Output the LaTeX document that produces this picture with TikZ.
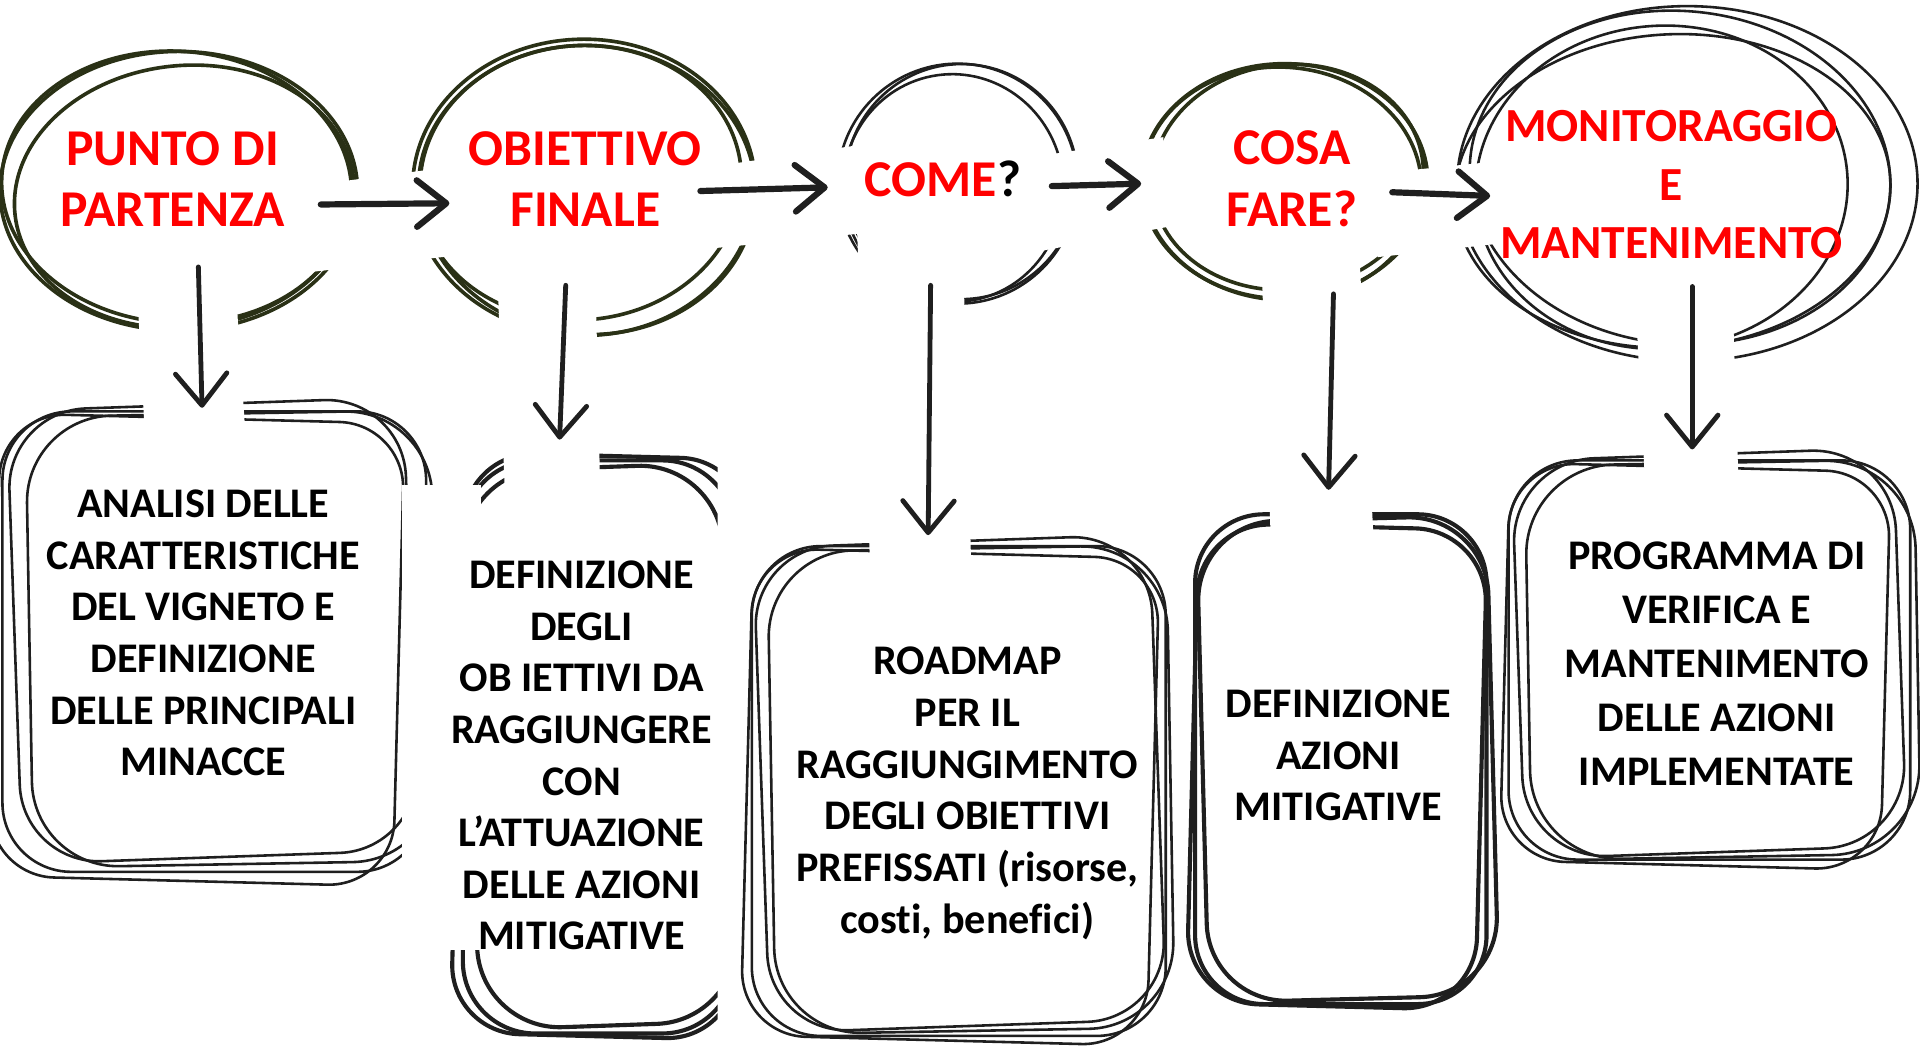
\documentclass[tikz,border=0pt]{standalone}
\usepackage{fontspec}
\setmainfont{Carlito}[Ligatures=CommonOff]
\usetikzlibrary{arrows.meta,positioning}
\definecolor{ringgreen}{HTML}{2A3116}
\definecolor{ink}{HTML}{1F1F1F}
\definecolor{headred}{HTML}{FF0000}

\begin{document}
\begin{tikzpicture}[
  x=0.025cm, y=-0.025cm,
  gring/.style={draw=ringgreen, line width=2.1pt},
  kring/.style={draw=ink, line width=1.5pt},
  kbox/.style ={draw=ink, line width=1.5pt},
  kboxb/.style={draw=ink, line width=2.4pt},
  patch/.style={fill=white, draw=none},
  head/.style ={text=headred, font=\fontsize{30}{35.5}\selectfont\bfseries, align=center, inner sep=0pt},
  body/.style ={text=black, font=\fontsize{24.5}{30}\selectfont\bfseries, align=center, inner sep=0pt},
  harr/.style ={-{Straight Barb[length=0.6cm,width=0.95cm,round]}, line width=3.6pt, draw=ink, line cap=round},
  varr/.style ={-{Straight Barb[length=0.65cm,width=1.05cm,round]}, line width=2.8pt, draw=ink, line cap=round},
]
\fill[white] (0,0) rectangle (1568,859);
\useasboundingbox (0,0) rectangle (1568,859);

%% --- top rings ---
% punto di partenza
\foreach \dx/\dy/\rx/\ry/\a in {0/0/146/114/0, 4/5/139/107/6, -2/-3/143/111/-4} {
  \draw[gring, rotate around={\a:(146,156)}] (146+\dx,156+\dy) ellipse [x radius=\rx, y radius=\ry];
}
% obiettivo finale
\foreach \dx/\dy/\rx/\ry/\a in {0/0/140/121/0, -3/-4/132/112/5, 3/2/137/118/-3} {
  \draw[gring, rotate around={\a:(477,153)}] (477+\dx,153+\dy) ellipse [x radius=\rx, y radius=\ry];
}
% come
\foreach \dx/\dy/\rx/\ry/\a in {0/0/98/98/0, -4/3/90/93/8, 3/-2/95/96/-6} {
  \draw[kring, rotate around={\a:(782,150)}] (782+\dx,150+\dy) ellipse [x radius=\rx, y radius=\ry];
}
% cosa fare
\foreach \dx/\dy/\rx/\ry/\a in {0/0/117/96/0, 3/-3/111/92/6, -2/2/114/95/-4} {
  \draw[gring, rotate around={\a:(1049,148)}] (1049+\dx,148+\dy) ellipse [x radius=\rx, y radius=\ry];
}
% monitoraggio
\foreach \cx/\cy/\rx/\ry/\a in {1378/150/188/145/0, 1357/153/152/132/4, 1372/145/172/136/-5, 1366/156/178/128/3} {
  \draw[kring, rotate around={\a:(\cx,\cy)}] (\cx,\cy) ellipse [x radius=\rx, y radius=\ry];
}

%% --- bottom boxes ---
\foreach \l/\t/\r/\b/\a/\rc in {2/336/348/712/0/40, 12/330/336/700/2/46, -4/342/326/720/-1.5/38, 24/338/355/706/1/50} {
  \draw[kbox, rounded corners=\rc pt, rotate around={\a:(175,520)}] (\l,\t) rectangle (\r,\b);
}
\begin{scope}
  \clip (300,300) rectangle (586,900);
  \foreach \l/\t/\r/\b/\a/\rc in {378/376/600/844/0/42, 384/382/596/838/2/48, 374/372/606/846/-1.5/40} {
    \draw[kboxb, rounded corners=\rc pt, rotate around={\a:(480,610)}] (\l,\t) rectangle (\r,\b);
  }
\end{scope}
\foreach \l/\t/\r/\b/\a/\rc in {614/446/952/846/0/40, 622/442/946/838/2/46, 610/452/942/850/-1.5/38, 630/448/956/842/1/50} {
  \draw[kbox, rounded corners=\rc pt, rotate around={\a:(785,645)}] (\l,\t) rectangle (\r,\b);
}
\foreach \l/\t/\r/\b/\a/\rc in {976/420/1214/820/0/40, 982/424/1219/816/1.5/46, 974/430/1210/822/-1.5/42} {
  \draw[kboxb, rounded corners=\rc pt, rotate around={\a:(1096,620)}] (\l,\t) rectangle (\r,\b);
}
\foreach \l/\t/\r/\b/\a/\rc in {1232/376/1560/702/0/40, 1240/371/1552/696/2/48, 1229/382/1540/707/-1.5/38, 1248/378/1566/700/1/52} {
  \draw[kbox, rounded corners=\rc pt, rotate around={\a:(1398,540)}] (\l,\t) rectangle (\r,\b);
}

%% --- white patches under the arrows ---
\fill[patch] (250,152) -- (400,132) -- (405,205) -- (255,222) -- cycle;
\fill[patch] (555,140) -- (705,118) -- (710,190) -- (560,205) -- cycle;
\fill[patch] (845,128) -- (950,112) -- (955,185) -- (850,205) -- cycle;
\fill[patch] (1122,142) -- (1240,130) -- (1242,197) -- (1125,210) -- cycle;
\fill[patch] (110,200) -- (190,198) -- (200,348) -- (118,350) -- cycle;
\fill[patch] (406,215) -- (486,212) -- (490,394) -- (412,396) -- cycle;
\fill[patch] (700,190) -- (786,188) -- (794,496) -- (712,498) -- cycle;
\fill[patch] (1030,206) -- (1110,204) -- (1122,446) -- (1038,448) -- cycle;
\fill[patch] (1334,216) -- (1414,214) -- (1420,402) -- (1344,404) -- cycle;
\fill[patch] (328,396) rectangle (393,776);

%% --- arrow ends ---
\coordinate (a1s) at (262,167);  \coordinate (a1e) at (367,166);
\coordinate (a2s) at (572,156);  \coordinate (a2e) at (676,153);
\coordinate (a3s) at (859,152);  \coordinate (a3e) at (932,150);
\coordinate (a4s) at (1137,157); \coordinate (a4e) at (1217,160);
\coordinate (v1s) at (162,218);  \coordinate (v1e) at (165,333);
\coordinate (v2s) at (462,233);  \coordinate (v2e) at (457,359);
\coordinate (v3s) at (760,233);  \coordinate (v3e) at (758,437);
\coordinate (v4s) at (1089,240); \coordinate (v4e) at (1085,400);
\coordinate (v5s) at (1382,234); \coordinate (v5e) at (1382,367);

\draw[harr] (a1s) -- (a1e);
\draw[harr] (a2s) -- (a2e);
\draw[harr] (a3s) -- (a3e);
\draw[harr] (a4s) -- (a4e);
\draw[varr] (v1s) -- (v1e);
\draw[varr] (v2s) -- (v2e);
\draw[varr] (v3s) -- (v3e);
\draw[varr] (v4s) -- (v4e);
\draw[varr] (v5s) -- (v5e);

%% --- texts ---
\node[head] (t1) at (141,146) {PUNTO DI\\PARTENZA};
\node[head] (t2) at (478,146) {OBIETTIVO\\FINALE};
\node[head] (t3) at (770,146) {COME\textcolor{black}{?}};
\node[head] (t4) at (1055,146) {COSA\\FARE?};
\node[head, font=\fontsize{27.6}{34}\selectfont\bfseries] (t5) at (1365,151) {MONITORAGGIO\\E\\MANTENIMENTO};

\node[body] (b1) at (166,517) {ANALISI DELLE\\CARATTERISTICHE\\DEL VIGNETO E\\DEFINIZIONE\\DELLE PRINCIPALI\\MINACCE};
\node[body] (b2) at (475,617) {DEFINIZIONE\\DEGLI\\OB IETTIVI DA\\RAGGIUNGERE\\CON\\L’ATTUAZIONE\\DELLE AZIONI\\MITIGATIVE};
\node[body] (b3) at (790,648) {ROADMAP\\PER IL\\RAGGIUNGIMENTO\\DEGLI OBIETTIVI\\PREFISSATI (risorse,\\costi, benefici)};
\node[body] (b4) at (1093,617) {DEFINIZIONE\\AZIONI\\MITIGATIVE};
\node[body, font=\fontsize{24.5}{31.5}\selectfont\bfseries] (b5) at (1402,542) {PROGRAMMA DI\\VERIFICA E\\MANTENIMENTO\\DELLE AZIONI\\IMPLEMENTATE};
\end{tikzpicture}
\end{document}
